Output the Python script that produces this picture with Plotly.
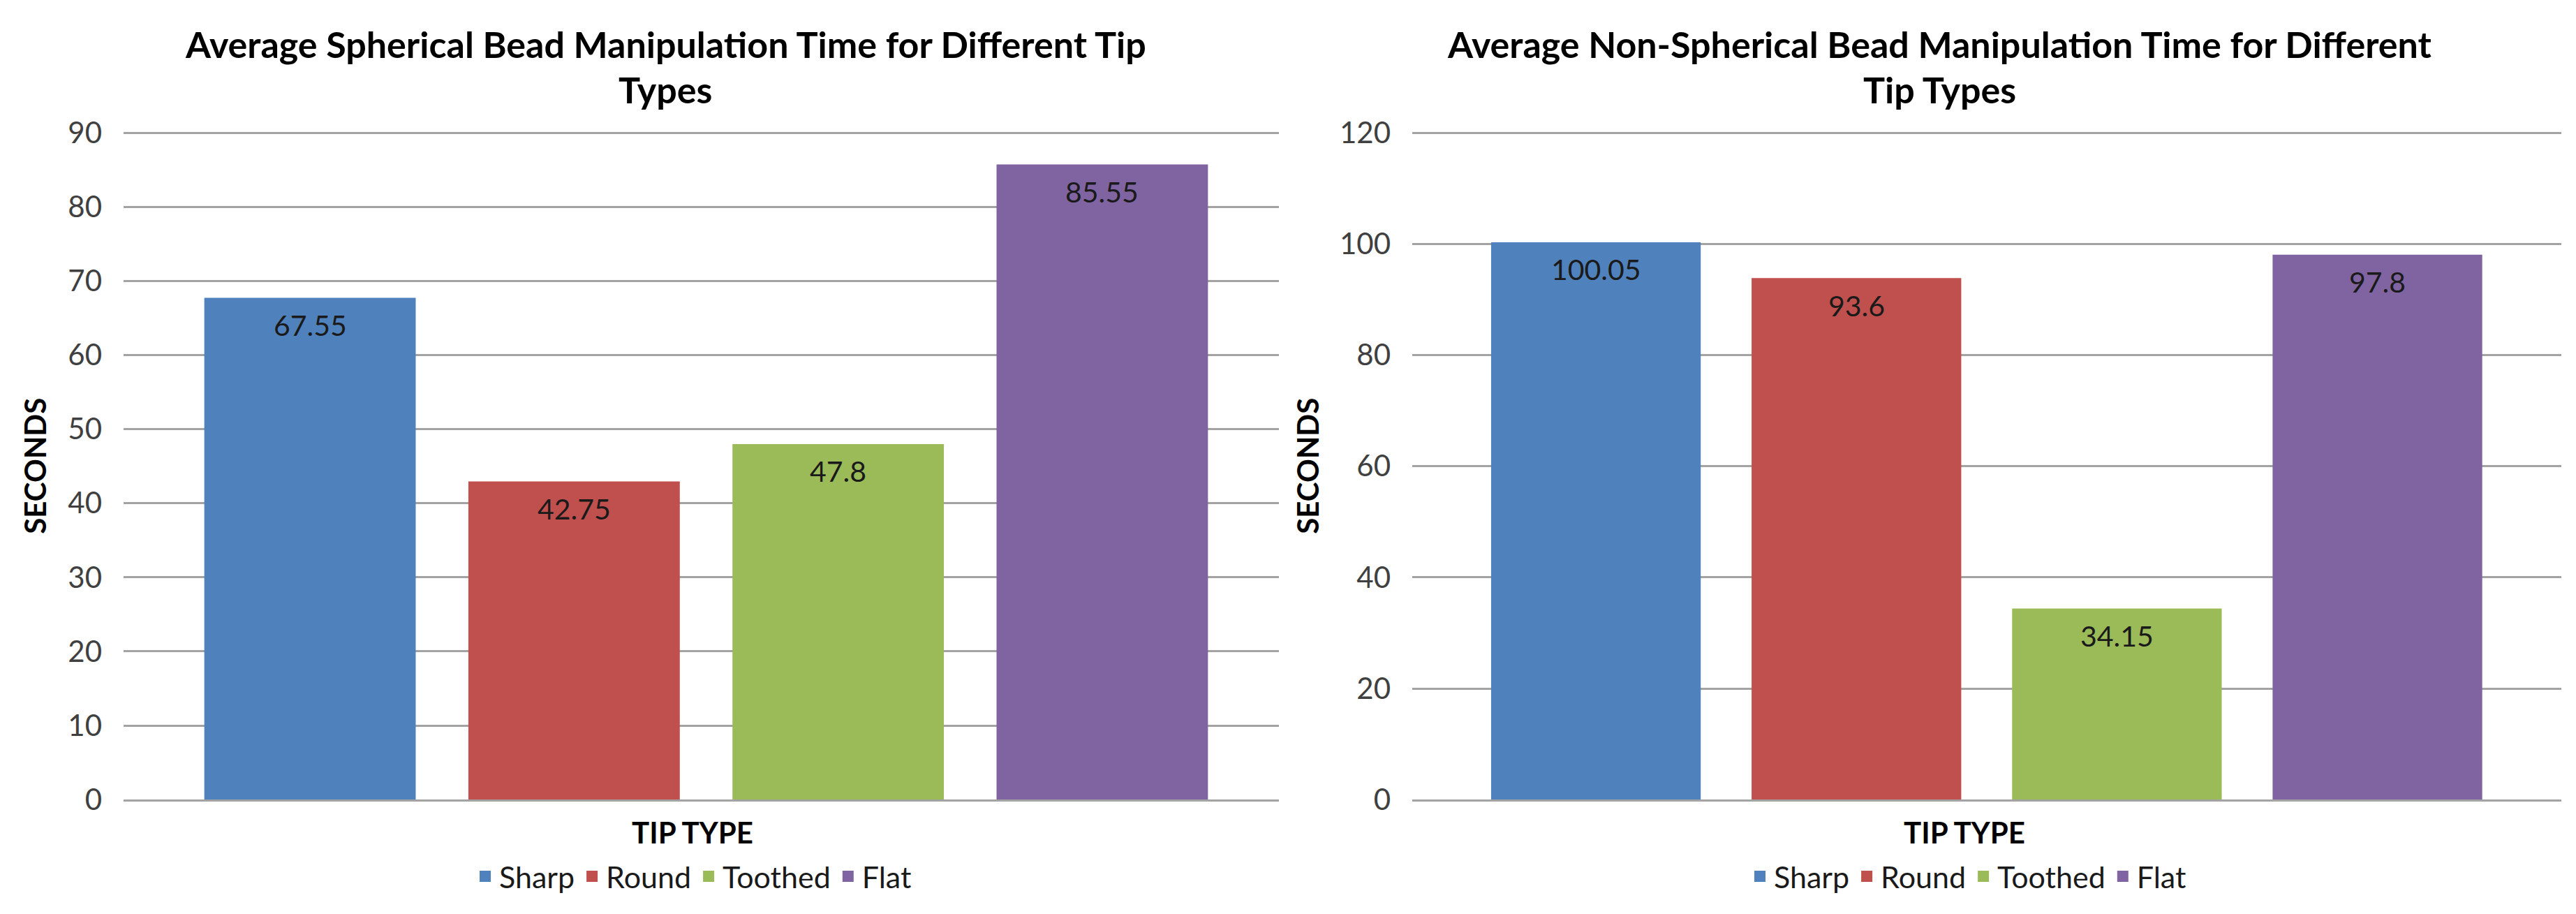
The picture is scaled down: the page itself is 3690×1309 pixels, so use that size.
import plotly.graph_objects as go

W, H = 3690, 1309

tip_types = ["Sharp", "Round", "Toothed", "Flat"]
spherical_times = [67.55, 42.75, 47.8, 85.55]
non_spherical_times = [100.05, 93.6, 34.15, 97.8]
colors = ["#4F81BD", "#C0504D", "#9BBB59", "#8064A2"]

left_title = ["Average Spherical Bead Manipulation Time for Different Tip", "Types"]
right_title = ["Average Non-Spherical Bead Manipulation Time for Different", "Tip Types"]
y_title = "SECONDS"
x_title = "TIP TYPE"

FONT = "Lato"
TXT = "#1a1a1a"
GRID = "#A3A3A3"

def px(x):
    return x / W

def py(y):
    return 1 - y / H

# plot area in pixels: top gridline at 175, baseline at 1157; pad above so top gridline shows
TOP, BASE, PAD = 175, 1157, 14
left_max, right_max = 90, 120
left_top = left_max * (BASE - TOP + PAD) / (BASE - TOP)
right_top = right_max * (BASE - TOP + PAD) / (BASE - TOP)

fig = go.Figure()

# outline in the bar's own colour, mostly so the legend squares come out bigger
for i, name in enumerate(tip_types):
    fig.add_trace(go.Bar(x=[name], y=[spherical_times[i]], name=name,
                         marker=dict(color=colors[i], line=dict(color=colors[i], width=4)),
                         width=0.79, xaxis="x", yaxis="y", legend="legend"))
for i, name in enumerate(tip_types):
    fig.add_trace(go.Bar(x=[name], y=[non_spherical_times[i]], name=name,
                         marker=dict(color=colors[i], line=dict(color=colors[i], width=4)),
                         width=0.794, xaxis="x2", yaxis="y2", legend="legend2"))

annotations = []
# value labels inside bar tops
for axes, vals in ((("x", "y"), spherical_times), (("x2", "y2"), non_spherical_times)):
    for name, v in zip(tip_types, vals):
        annotations.append(dict(x=name, y=v, xref=axes[0], yref=axes[1],
                                text=f"{v:g}", showarrow=False, yanchor="middle",
                                yshift=-37, font=dict(size=41, color=TXT, family=FONT)))

# chart titles, one annotation per line
for cx, lines in ((945, left_title), (2770, right_title)):
    for k, line in enumerate(lines):
        annotations.append(dict(x=px(cx), y=py(44 + 67 * k), xref="paper", yref="paper",
                                text=f"<b>{line}</b>", showarrow=False,
                                xanchor="center", yanchor="middle",
                                font=dict(size=52, color="#000000", family=FONT)))

# axis titles
for cx in (42, 1865):
    annotations.append(dict(x=px(cx), y=py(666), xref="paper", yref="paper",
                            text=f"<b>{y_title}</b>", showarrow=False, textangle=-90,
                            xanchor="center", yanchor="middle",
                            font=dict(size=42, color="#000000", family=FONT)))
for cx in (984, 2806):
    annotations.append(dict(x=px(cx), y=py(1205), xref="paper", yref="paper",
                            text=f"<b>{x_title}</b>", showarrow=False,
                            xanchor="center", yanchor="middle",
                            font=dict(size=42, color="#000000", family=FONT)))

ydom = [py(BASE), py(TOP - PAD)]
xaxis_common = dict(type="category", categoryorder="array", categoryarray=tip_types,
                    showticklabels=False, showgrid=False, zeroline=False,
                    showline=True, linecolor=GRID, linewidth=3,
                    ticks="", fixedrange=True)
yaxis_common = dict(showgrid=True, gridcolor=GRID, gridwidth=3, zeroline=False,
                    showline=False, ticks="", ticklabelstandoff=30,
                    tickfont=dict(size=42, color="#404040", family=FONT))

legend_common = dict(orientation="h", xanchor="center", yanchor="middle", y=py(1270),
                     font=dict(size=43, color=TXT, family=FONT), bgcolor="rgba(0,0,0,0)",
                     traceorder="normal", itemwidth=30)

fig.update_layout(
    width=W, height=H,
    margin=dict(l=0, r=0, t=0, b=0),
    paper_bgcolor="white", plot_bgcolor="white",
    barmode="overlay",
    font=dict(family=FONT),
    xaxis=dict(domain=[px(169), px(1824)], range=[-0.706, 3.669], anchor="y", **xaxis_common),
    yaxis=dict(domain=ydom, range=[0, left_top], dtick=10, anchor="x", **yaxis_common),
    xaxis2=dict(domain=[px(2015), px(3661)], range=[-0.705, 3.706], anchor="y2", **xaxis_common),
    yaxis2=dict(domain=ydom, range=[0, right_top], dtick=20, anchor="x2", **yaxis_common),
    legend=dict(x=px(985), **legend_common),
    legend2=dict(x=px(2811), **legend_common),
    annotations=annotations,
)

fig.write_html("out.html")
